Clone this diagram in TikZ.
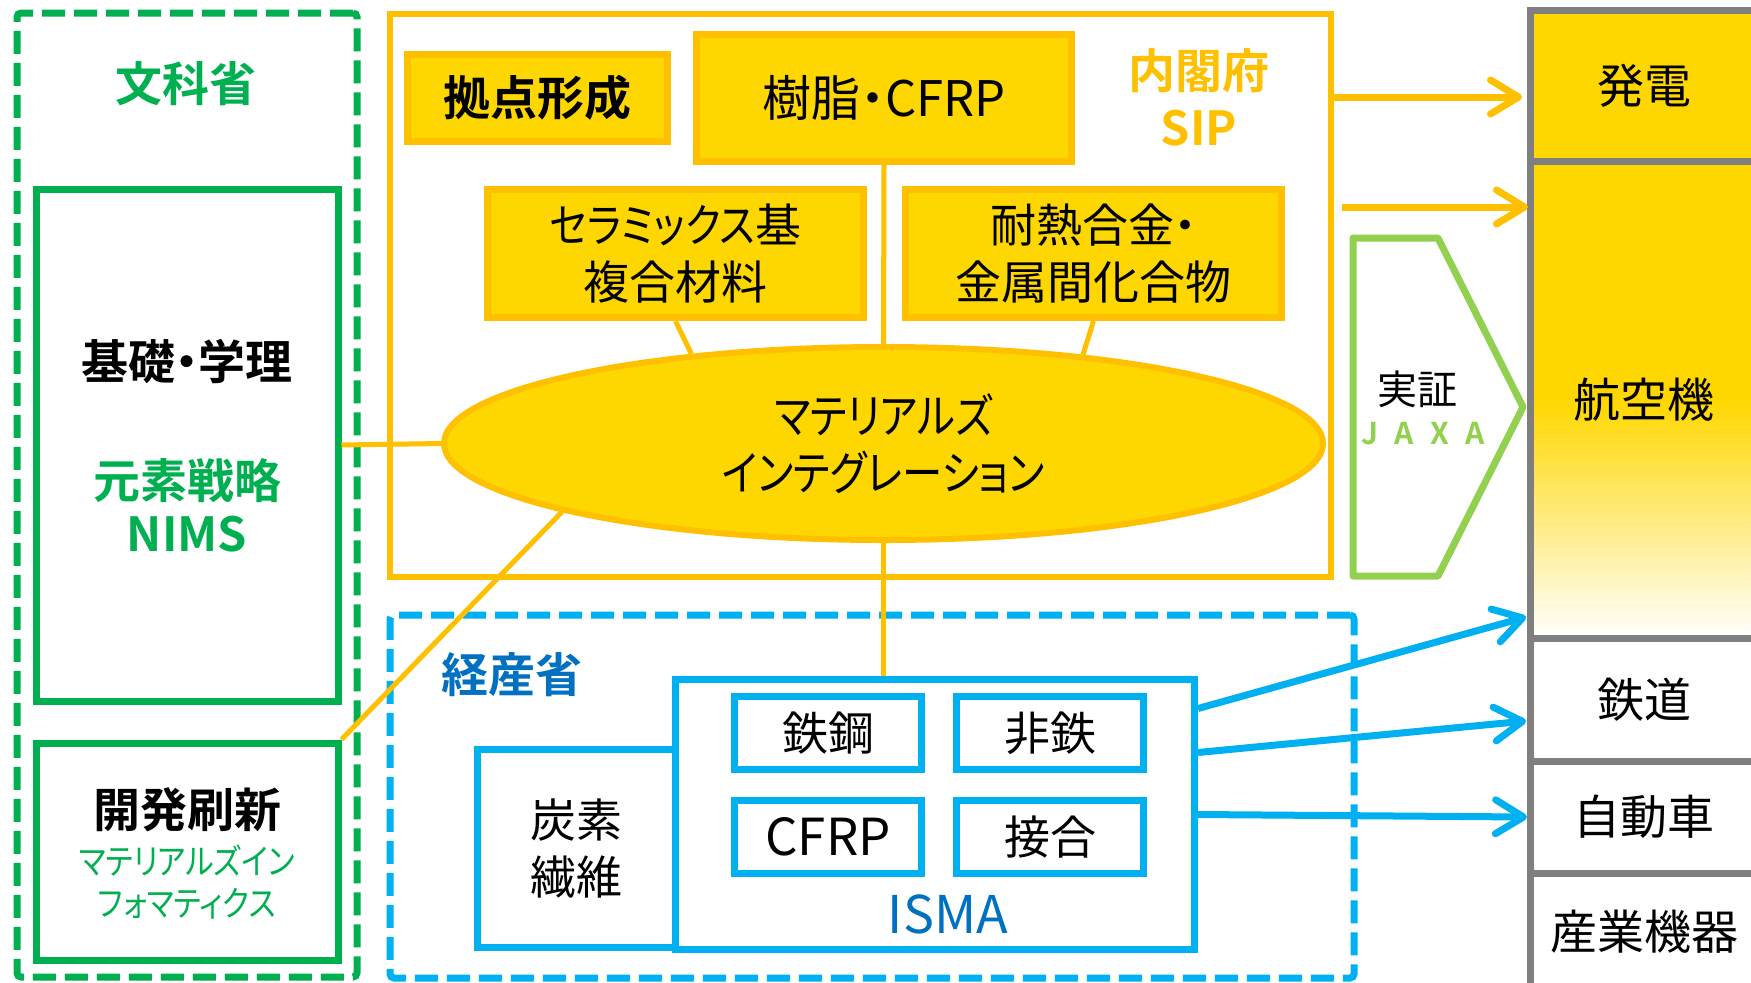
\documentclass[tikz,border=0pt]{standalone}
\usepackage{fontspec}
\setmainfont{Noto Sans CJK JP}[BoldFont={Noto Sans CJK JP Bold},RawFeature=+palt]
\newfontfamily\kana{Noto Sans CJK JP}[FakeStretch=0.86,RawFeature=+palt]
\usetikzlibrary{arrows.meta,shapes.geometric}
\definecolor{goldfill}{HTML}{FFD700}
\definecolor{goldline}{HTML}{FFC000}
\definecolor{mextgreen}{HTML}{00B050}
\definecolor{metiline}{HTML}{00B0F0}
\definecolor{metitext}{HTML}{0070C0}
\definecolor{jaxagreen}{HTML}{92D050}
\definecolor{colgray}{HTML}{7F7F7F}
\tikzset{
	box/.style={inner sep=0pt, line width=3.5pt, align=center, font=\fontsize{23pt}{28.5pt}\selectfont},
	goldbox/.style={box, draw=goldline, fill=goldfill},
	greenbox/.style={box, draw=mextgreen},
	bluebox/.style={box, draw=metiline},
	dashframe/.style={box, dash pattern=on 11.5pt off 4.5pt, rounded corners=2pt},
	colbox/.style={box, draw=colgray, minimum width=114pt, font=\fontsize{23.5pt}{28pt}\selectfont},
	headtext/.style={inner sep=0pt, align=center, font=\bfseries\fontsize{23.5pt}{28.5pt}\selectfont},
	link/.style={draw=goldline, line width=2.5pt},
	goldarrow/.style={draw=goldline, line width=3.5pt, -{Straight Barb[length=14pt,width=17pt,round]}},
	bluearrow/.style={draw=metiline, line width=3.5pt, -{Straight Barb[length=14pt,width=17pt,round]}},
}
\begin{document}
\begin{tikzpicture}[x=0.5pt, y=-0.5pt]
	\newcommand{\COLX}{1644}
	\useasboundingbox (0,0) rectangle (1751,982);
	\clip (0,0) rectangle (1751,982);
	% 文科省
	\node(MEXT) [dashframe, draw=mextgreen, minimum width=170pt, minimum height=482pt] at (187,495){};
	\node(MEXTt) [headtext, text=mextgreen] at (186,84){文科省};
	\node(KISO) [greenbox, minimum width=151pt, minimum height=256pt] at (187,445){};
	\node(KISOt) [headtext] at (187,362){基礎・学理};
	\node(NIMS) [headtext, text=mextgreen, font=\bfseries\fontsize{23.5pt}{26.5pt}\selectfont] at (187,505){元素戦略\\NIMS};
	\node(KAIHATSU) [greenbox, minimum width=151pt, minimum height=108.5pt] at (187,851.5){};
	\node(KAIHATSUt) [headtext] at (187,810){開発刷新};
	\node(MINFO) [text=mextgreen, inner sep=0pt, align=center, font=\kana\fontsize{17.5pt}{21pt}\selectfont] at (187,882){マテリアルズイン\\フォマティクス};
	% 内閣府 SIP
	\node(SIP) [box, draw=goldline, line width=3pt, minimum width=470.5pt, minimum height=281.5pt] at (860.5,295.5){};
	\node(SIPt) [headtext, text=goldline, font=\bfseries\fontsize{23.5pt}{28.5pt}\selectfont] at (1199,97.5){内閣府\\SIP};
	\node(KYOTEN) [goldbox, minimum width=130pt, minimum height=43.5pt, font=\bfseries\fontsize{23.5pt}{28.5pt}\selectfont] at (537.5,98){拠点形成};
	\node(JUSHI) [goldbox, minimum width=187.5pt, minimum height=63.5pt, font=\fontsize{24.5pt}{28.5pt}\selectfont] at (884,98){樹脂・CFRP};
	\node(CERA) [goldbox, minimum width=188pt, minimum height=64pt] at (675.5,253.5){{\kana セラミックス}基\\複合材料};
	\node(TAINETSU) [goldbox, minimum width=188pt, minimum height=64pt] at (1093.5,253.5){耐熱合金・\\金属間化合物};
	\node(MI) [goldbox, ellipse, line width=3pt, minimum width=439.5pt, minimum height=96.5pt, font=\kana\fontsize{23.5pt}{28.5pt}\selectfont] at (883.5,443.5){マテリアルズ\\インテグレーション};
	\draw[link] (JUSHI.south) -- (MI.north);
	\draw[link] (CERA.south) -- (MI.155.5);
	\draw[link] (TAINETSU.south) -- (MI.24.5);
	\draw[link] (KISO.east) -- (MI.west);
	% 経産省
	\node(METI) [dashframe, draw=metiline, minimum width=482pt, minimum height=181.5pt] at (872,796.5){};
	\node(METIt) [headtext, text=metitext] at (512,675){経産省};
	\node(ISMA) [bluebox, minimum width=259.5pt, minimum height=135pt] at (935,814.5){};
	\node(ISMAt) [text=metitext, inner sep=0pt, font=\fontsize{26pt}{28pt}\selectfont] at (948,914){ISMA};
	\node(TANSO) [bluebox, minimum width=99pt, minimum height=99pt] at (576.5,848.5){炭素\\繊維};
	\node(TEKKO) [bluebox, minimum width=93.5pt, minimum height=36.5pt] at (828,733){鉄鋼};
	\node(HITETSU) [bluebox, minimum width=93.5pt, minimum height=36.5pt] at (1050,733){非鉄};
	\node(CFRP) [bluebox, minimum width=93.5pt, minimum height=36.5pt, font=\fontsize{25.5pt}{28pt}\selectfont] at (828,837){CFRP};
	\node(SETSUGO) [bluebox, minimum width=93.5pt, minimum height=36.5pt] at (1050,837){接合};
	\draw[link] (MI.south) -- (MI.south |- ISMA.north);
	\draw[link] (MI.192) -- (KAIHATSU.north east);
	% JAXA
	\draw[jaxagreen, line width=3.5pt, line join=round] (1353,238) -- (1438,238) -- (1523,407) -- (1438,576) -- (1353,576) -- cycle;
	\node(JISSHO) [inner sep=0pt, font=\fontsize{20pt}{24pt}\selectfont] at (1417,389){実証};
	\node(JAXA) [text=jaxagreen, inner sep=0pt, font=\bfseries\fontsize{15pt}{18pt}\selectfont\addfontfeatures{LetterSpace=55}] at (1423,434){JAXA};
	% 応用先
	\node(HATSU) [colbox, fill=goldfill, minimum height=75.5pt] at (\COLX,85.5){発電};
	\node(KOKU) [colbox, top color=goldfill, bottom color=white, middle color=goldfill, minimum height=238.5pt] at (\COLX,399.5){航空機};
	\node(TETSU) [colbox, minimum height=61.5pt] at (\COLX,699.5){鉄道};
	\node(JIDO) [colbox, minimum height=56pt] at (\COLX,817){自動車};
	\node(SANGYO) [colbox, minimum height=58.5pt] at (\COLX,931.5){産業機器};
	\coordinate(HA) at (1522,97);
	\coordinate(KA) at (1528,207);
	\coordinate(B1) at (1526,617);
	\coordinate(B2) at (1526,721);
	\coordinate(B3) at (1527,817);
	\draw[goldarrow] (SIP.east |- HA) -- (HA);
	\draw[goldarrow] ([xshift=4pt]SIP.east |- KA) -- (KA);
	\draw[bluearrow] ([yshift=53pt]ISMA.east) -- (B1);
	\draw[bluearrow] ([yshift=31pt]ISMA.east) -- (B2);
	\draw[bluearrow] (ISMA.east) -- (B3);
\end{tikzpicture}
\end{document}
